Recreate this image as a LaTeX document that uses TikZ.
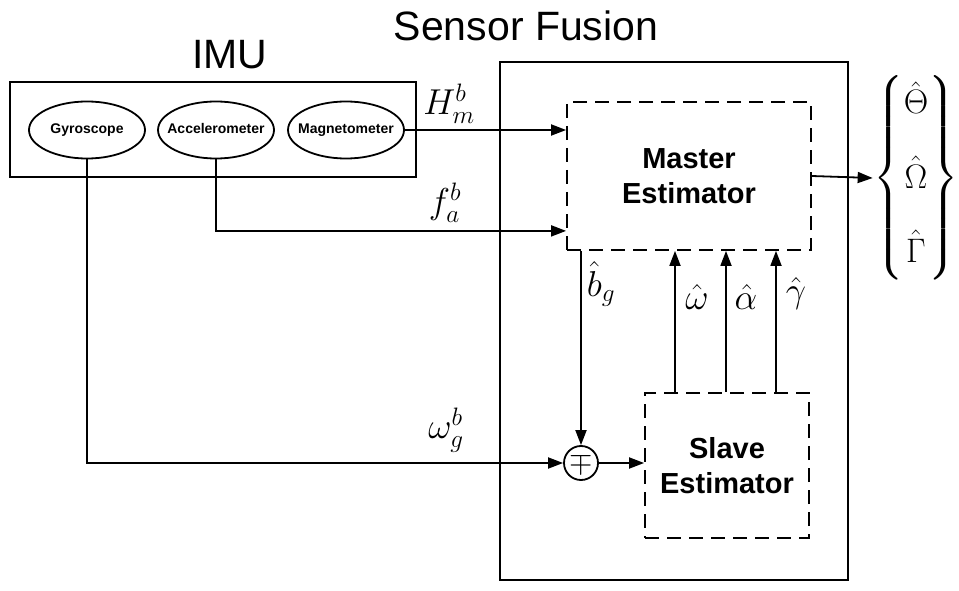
\RequirePackage{fix-cm}
\documentclass[tikz,border=0pt]{standalone}
\usepackage{amsmath}
\usepackage{amssymb}
\usepackage{fontspec}
\setmainfont{Liberation Sans}
\usepackage{tikz}
\usetikzlibrary{shapes,arrows.meta,positioning,calc,fit}

\begin{document}
\begin{tikzpicture}[x=1pt, y=-1pt, >={Triangle[length=15pt,width=11pt]}, line width=1.8pt,
        sensor/.style={draw, ellipse, minimum width=116pt, minimum height=57pt, inner xsep=-10pt, inner ysep=0pt,
            text height=10pt, text depth=3pt, font=\fontsize{14}{16}\selectfont\bfseries},
        est/.style={draw, dash pattern=on 14pt off 8pt, align=center, font=\fontsize{29}{35}\selectfont\bfseries},
        lbl/.style={font=\fontsize{36}{40}\selectfont, inner sep=0pt}]
        \useasboundingbox (0,0) rectangle (959,591);

        % Nodes
        \node[draw, minimum width=406pt, minimum height=95pt] (imu) at (213,129.5) {};
        \node[anchor=base, font=\fontsize{41}{48}\selectfont] (imutitle) at (230,69) {IMU};
        \node[sensor] (gyro) at (87,130) {Gyroscope};
        \node[sensor] (acc) at (216,130) {Accelerometer};
        \node[sensor] (mag) at (346,130) {Magnetometer};

        \node[draw, minimum width=348pt, minimum height=518pt] (fusion) at (674,321) {};
        \node[anchor=base, font=\fontsize{41}{48}\selectfont] (fusiontitle) at (526,41) {Sensor Fusion};

        \node[est, minimum width=244pt, minimum height=148pt] (master) at (689,176) {Master\\Estimator};
        \node[est, minimum width=164pt, minimum height=145pt] (slave) at (727,465.5) {Slave\\Estimator};
        \node[draw, circle, minimum size=34pt, inner sep=0pt, font=\fontsize{30}{32}\selectfont] (sum) at (581,463) {$\mp$};

        \node[inner sep=0pt, font=\fontsize{34}{40}\selectfont] (out) at (916,178)
            {$\left\{\begin{matrix}\hat{\Theta}\\[30pt]\hat{\Omega}\\[30pt]\hat{\Gamma}\end{matrix}\right\}$};

        % Labels
        \node[lbl] (hlbl) at (449,104) {$H_m^b$};
        \node[lbl] (flbl) at (445,203) {$f_a^b$};
        \node[lbl] (wlbl) at (446,430) {$\omega_g^b$};
        \node[lbl] (bglbl) at (601,284) {$\hat{b}_g$};
        \node[lbl] (omlbl) at (697,297) {$\hat{\omega}$};
        \node[lbl] (allbl) at (746,297) {$\hat{\alpha}$};
        \node[lbl] (gmlbl) at (796,293) {$\hat{\gamma}$};

        % Edges
        \draw[->] (mag.east) -- (mag.east -| master.west);
        \draw[->] (acc.south) |- ($(master.south west)+(0,-20)$);
        \draw[->] (gyro.south) |- (sum.west);
        \draw[->] (sum.east) -- (sum.east -| slave.west);
        \draw[->] (sum.north |- master.south) -- (sum.north);
        \foreach \xx in {675,726,776}
            \draw[->] (\xx,0 |- slave.north) -- (\xx,0 |- master.south);
        \draw[->] (master.east) -- (out.west);
    \end{tikzpicture}
\end{document}
